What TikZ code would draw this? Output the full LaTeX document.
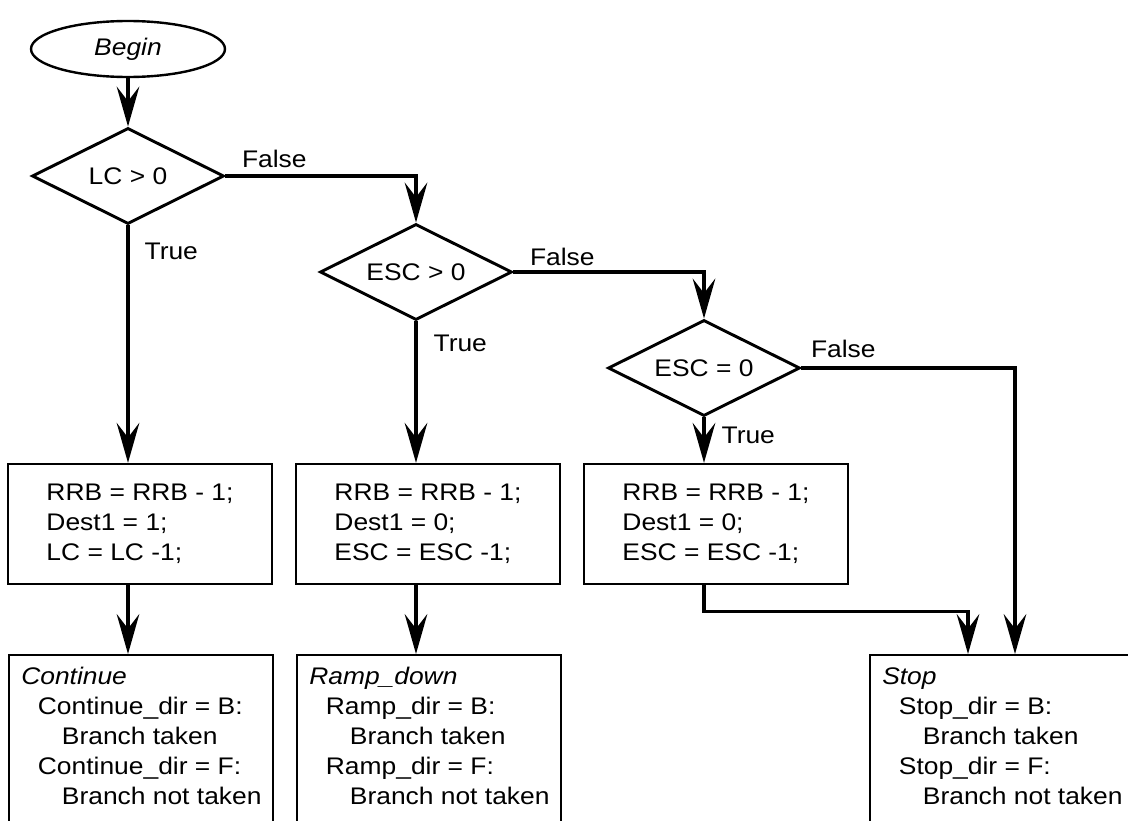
\documentclass[tikz,border=0pt]{standalone}
\usepackage{fontspec}
\setmainfont{Liberation Sans}[FakeStretch=1.1]
\usetikzlibrary{shapes.geometric,arrows.meta,positioning}

\newcommand{\lvlone}{\hspace*{12.5pt}}
\newcommand{\lvltwo}{\hspace*{30.5pt}}

\tikzset{
  flow/.style={font=\fontsize{18pt}{22.5pt}\selectfont},
  start/.style={flow,draw,ellipse,line width=1.8pt,minimum width=145.5pt,minimum height=42pt,inner sep=0pt},
  decision/.style={flow,draw,diamond,aspect=2,line width=2.2pt,minimum width=144pt,minimum height=72pt,inner sep=0pt},
  action/.style={flow,draw,line width=1.7pt,minimum width=198pt,minimum height=90pt,align=left},
  outcome/.style={draw,line width=1.7pt,minimum width=198pt,minimum height=135pt,anchor=north west},
  outtext/.style={flow,align=left,inner sep=0pt,anchor=north west},
  lbl/.style={flow,inner sep=0pt,anchor=base west},
  arr/.style={line width=2.4pt,-{Stealth[length=30pt,width=17pt,inset=11pt]}}
}

\begin{document}
\begin{tikzpicture}[x=0.75pt,y=-0.75pt]
\useasboundingbox (0,0) rectangle (1128,821);
% start and tests
\node[start] (begin) at (128,49) {\itshape Begin};
\node[decision] (d1) at (128,176) {LC > 0};
\node[decision] (d2) at (416,272) {ESC > 0};
\node[decision] (d3) at (704,368) {ESC = 0};
% updates
\node[action] (b1) at (140,524) {RRB = RRB - 1;\\Dest1 = 1;\\LC = LC -1;};
\node[action] (b2) at (428,524) {RRB = RRB - 1;\\Dest1 = 0;\\ESC = ESC -1;};
\node[action] (b3) at (716,524) {RRB = RRB - 1;\\Dest1 = 0;\\ESC = ESC -1;};
% outcomes
\node[outcome] (c1) at (8,654) {};
\node[outcome] (c2) at (296,654) {};
\node[outcome] (c3) at (869,654) {};
\node[outtext] (c1text) at ([shift={(13,13)}]c1.north west) {\textit{Continue}\\\lvlone Continue\_dir = B:\\\lvltwo Branch taken\\\lvlone Continue\_dir = F:\\\lvltwo Branch not taken};
\node[outtext] (c2text) at ([shift={(13,13)}]c2.north west) {\textit{Ramp\_down}\\\lvlone Ramp\_dir = B:\\\lvltwo Branch taken\\\lvlone Ramp\_dir = F:\\\lvltwo Branch not taken};
\node[outtext] (c3text) at ([shift={(13,13)}]c3.north west) {\textit{Stop}\\\lvlone Stop\_dir = B:\\\lvltwo Branch taken\\\lvlone Stop\_dir = F:\\\lvltwo Branch not taken};
\coordinate (stopa) at ([shift={(99,0)}]c3.north west);
\coordinate (stopb) at ([shift={(146,0)}]c3.north west);
% connectors
\draw[arr] (begin) -- (d1);
\draw[arr] (d1.east) -| (d2.north) node[lbl,pos=0,shift={(15,-9)}] (f1) {False};
\draw[arr] (d1.south) -- (d1 |- b1.north) node[lbl,pos=0,shift={(15,34)}] (t1) {True};
\draw[arr] (d2.east) -| (d3.north) node[lbl,pos=0,shift={(15,-7)}] (f2) {False};
\draw[arr] (d2.south) -- (d2 |- b2.north) node[lbl,pos=0,shift={(16,30)}] (t2) {True};
\draw[arr] (d3.south) -- (d3 |- b3.north) node[lbl,pos=0,shift={(16,26)}] (t3) {True};
\draw[arr] (d3.east) -| (stopb) node[lbl,pos=0,shift={(8,-11)}] (f3) {False};
\draw[arr] (d1 |- b1.south) -- (d1 |- c1.north);
\draw[arr] (d2 |- b2.south) -- (d2 |- c2.north);
\draw[arr] (d3 |- b3.south) -- ++(0,26) -| (stopa);
\end{tikzpicture}
\end{document}
